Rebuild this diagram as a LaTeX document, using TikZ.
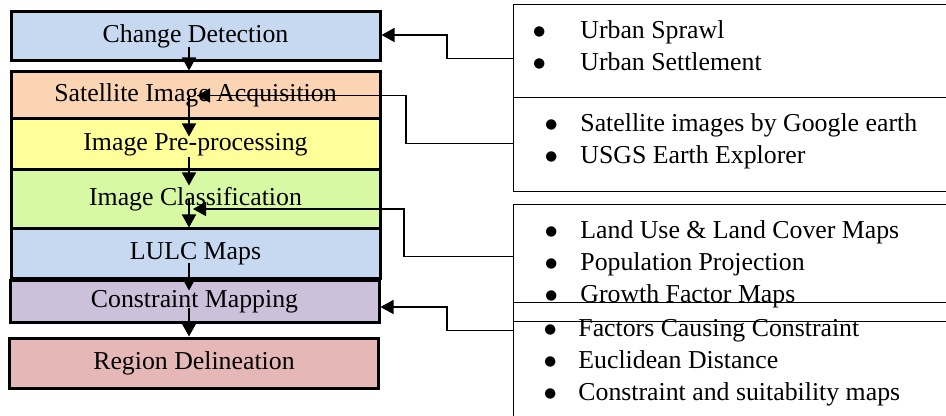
\documentclass[tikz,border=0pt]{standalone}
\usepackage{fontspec}
\setmainfont{Liberation Serif}
\newfontfamily\dotfont{DejaVu Sans}
\usetikzlibrary{arrows.meta, positioning}
\usepackage{xcolor}

\definecolor{stageblue}{RGB}{198,217,241}
\definecolor{stagepeach}{RGB}{251,212,180}
\definecolor{stageyellow}{RGB}{255,255,153}
\definecolor{stagegreen}{RGB}{215,249,163}
\definecolor{stagelilac}{RGB}{204,192,218}
\definecolor{stagerose}{RGB}{229,184,183}

% bullet, then gap, then the item text
\newcommand{\bull}[2]{\makebox[0pt][c]{\raisebox{1.3pt}{\dotfont\fontsize{6.8}{7}\selectfont ●}}\hspace{#1}#2}

\begin{document}
\begin{tikzpicture}[x=0.5pt, y=-0.5pt,
    stage/.style={draw, line width=1.5pt, minimum width=184.5pt, inner sep=0pt,
                  font=\fontsize{12.9}{15}\selectfont},
    source/.style={draw, line width=0.6pt, anchor=north west, minimum width=250pt, inner sep=0pt},
    item/.style={anchor=base west, inner sep=0pt, font=\fontsize{12.9}{15}\selectfont},
    arr/.style={line width=0.75pt, -{Triangle[length=6.5pt, width=7pt]}}]
  \useasboundingbox (0,0) rectangle (946,416);
  \clip (0,0) rectangle (946,416);

  % stages on the left
  \node[stage, fill=stageblue, minimum height=24.5pt] (cd) at (195.5,36.5) {Change Detection};
  \node[stage, fill=stagepeach, minimum height=23.5pt] (sat) at (195.5,95.5) {Satellite Image Acquisition};
  \node[stage, fill=stageyellow, minimum height=25.5pt] (pre) at (195.5,144.5) {Image Pre-processing};
  \node[stage, fill=stagegreen, minimum height=29.5pt] (cls) at (195.5,199.5) {Image Classification};
  \node[stage, fill=stageblue, minimum height=25pt] (lulc) at (195.5,254) {LULC Maps};
  \node[stage, fill=stagelilac, minimum height=20.5pt] (con) at (194.5,301.5) {Constraint Mapping};
  \node[stage, fill=stagerose, minimum height=25pt] (reg) at (194,363) {Region Delineation};

  % input boxes on the right
  \node[source, minimum height=46.5pt] (r1) at (513,4) {};
  \node[source, minimum height=47pt] (r2) at (513,97) {};
  \node[source, minimum height=58.5pt] (r3) at (513,204) {};
  \node[source, minimum height=70pt] (r4) at (513,302) {};

  \node[item] (sprawl) at (539,38.5) {\bull{20.5pt}{Urban Sprawl}};
  \node[item] (settle) at (539,70.5) {\bull{20.5pt}{Urban Settlement}};

  \node[item] (google) at (551,131.5) {\bull{14.5pt}{Satellite images by Google earth}};
  \node[item] (usgs) at (551,163.5) {\bull{14.5pt}{USGS Earth Explorer}};

  \node[item] (lulcmap) at (551,238.5) {\bull{14.5pt}{Land Use \& Land Cover Maps}};
  \node[item] (popul) at (551,270.5) {\bull{14.5pt}{Population Projection}};
  \node[item] (growth) at (551,302.5) {\bull{14.5pt}{Growth Factor Maps}};

  \node[item] (factors) at (550,336.5) {\bull{14pt}{Factors Causing Constraint}};
  \node[item] (eucl) at (550,368.5) {\bull{14pt}{Euclidean Distance}};
  \node[item] (suit) at (550,400.5) {\bull{14pt}{Constraint and suitability maps}};

  % flow down the stages
  \path [arr] ([xshift=-3.25pt, yshift=-5.25pt]cd.center) edge ([xshift=-3.25pt]sat.north);
  \path [arr] ([xshift=-3.25pt]sat.center) edge ([xshift=-3.25pt, yshift=-9.5pt]pre.north);
  \path [arr] ([xshift=-3.25pt, yshift=-6.25pt]pre.center) edge ([xshift=-3.25pt, yshift=-8.5pt]cls.north);
  \path [arr] ([xshift=-3.25pt]cls.center) edge ([xshift=-3.25pt]lulc.north);
  \path [arr] ([xshift=-3.25pt, yshift=-4.5pt]lulc.center) edge ([xshift=-2.75pt, yshift=-5.5pt]con.north);
  \path [arr] ([xshift=-2.75pt, yshift=-3.25pt]con.center) edge ([xshift=-2.5pt]reg.north);

  % inputs feeding the stages
  \draw [arr] ([yshift=-3.75pt]r1.west) -- ++(-66,0) |- ([yshift=0.75pt]cd.east);
  \draw [arr] ([yshift=0.5pt]r2.west) -- ++(-107,0) |- ([xshift=0.75pt]sat.center);
  \draw [arr] ([yshift=3.25pt]r3.west) -- ++(-109,0) |- ([xshift=-1.25pt, yshift=-4.75pt]cls.center);
  \draw [arr] ([yshift=21pt]r4.west) -- ++(-66,0) |- ([yshift=-2.75pt]con.east);
\end{tikzpicture}
\end{document}
